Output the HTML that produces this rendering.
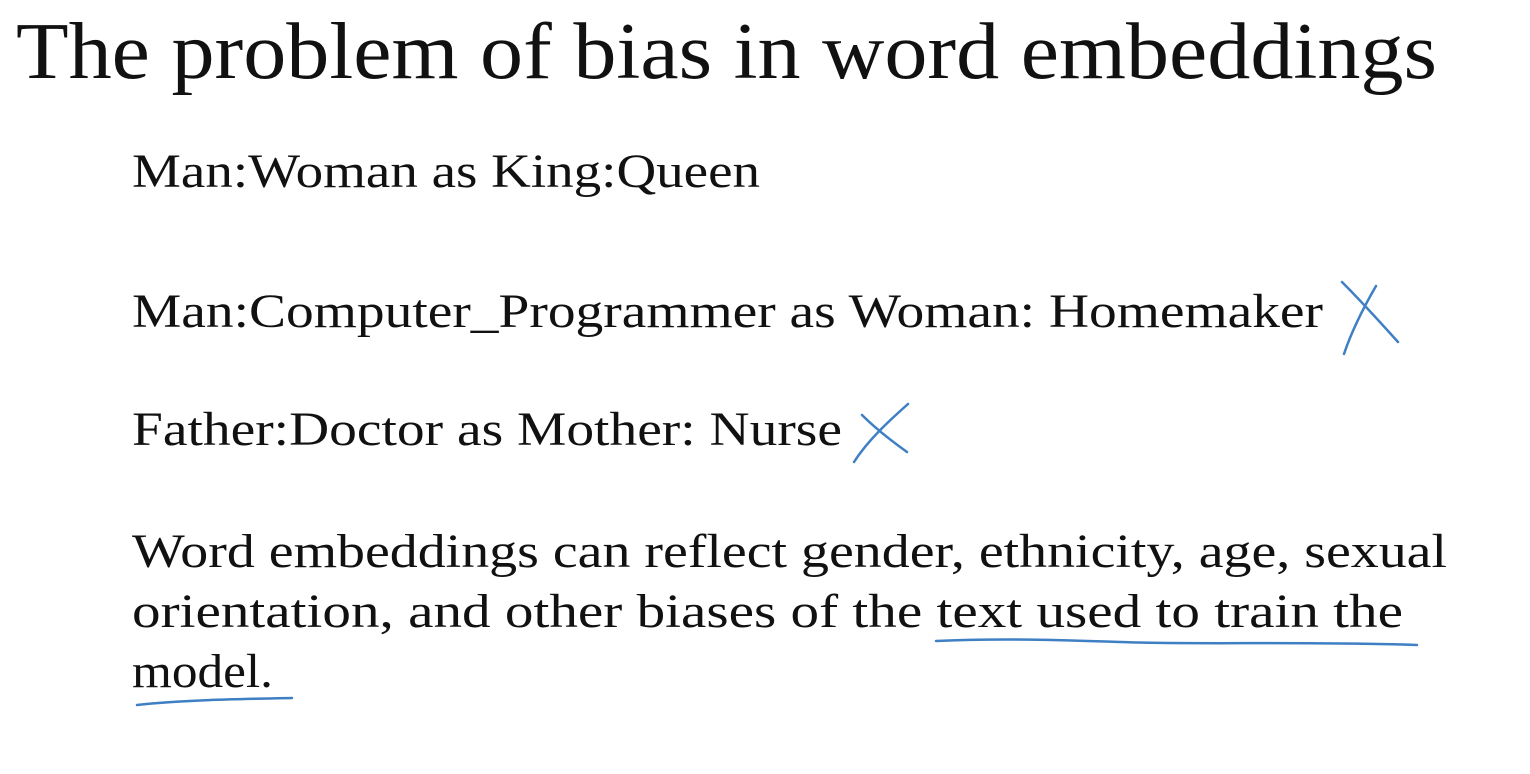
<!DOCTYPE html>
<html>
<head>
<meta charset="utf-8">
<style>
  html,body{margin:0;padding:0;background:#fff;}
  svg{display:block;}
  text{font-family:"Liberation Serif","DejaVu Serif",serif;fill:#111;}
</style>
</head>
<body>
<svg width="1530" height="774" viewBox="0 0 1530 774">
  <text x="16" y="78" font-size="80" textLength="1421" lengthAdjust="spacingAndGlyphs">The problem of bias in word embeddings</text>

  <text x="132" y="187" font-size="48" textLength="628" lengthAdjust="spacingAndGlyphs">Man:Woman as King:Queen</text>

  <text x="132" y="327" font-size="48" textLength="1191" lengthAdjust="spacingAndGlyphs">Man:Computer_Programmer as Woman: Homemaker</text>

  <text x="132" y="445" font-size="48" textLength="710" lengthAdjust="spacingAndGlyphs">Father:Doctor as Mother: Nurse</text>

  <text x="132" y="567" font-size="48" textLength="1315" lengthAdjust="spacingAndGlyphs">Word embeddings can reflect gender, ethnicity, age, sexual</text>
  <text x="132" y="627" font-size="48" textLength="1271" lengthAdjust="spacingAndGlyphs">orientation, and other biases of the text used to train the</text>
  <text x="132" y="687" font-size="48" textLength="141" lengthAdjust="spacingAndGlyphs">model.</text>

  <g fill="none" stroke="#3f7fc4" stroke-width="2.5" stroke-linecap="round">
    <path d="M1342 282 C1360 300 1380 322 1398 342 M1376 286 C1365 305 1352 330 1344 354"/>
    <path d="M862 415 C875 428 893 442 907 452 M908 404 C890 420 868 440 854 462"/>
    <path d="M936 641 C1000 638 1060 640 1120 642 C1200 645 1300 641 1417 645"/>
    <path d="M137 705 C180 700 240 699 292 698"/>
  </g>
</svg>
</body>
</html>
